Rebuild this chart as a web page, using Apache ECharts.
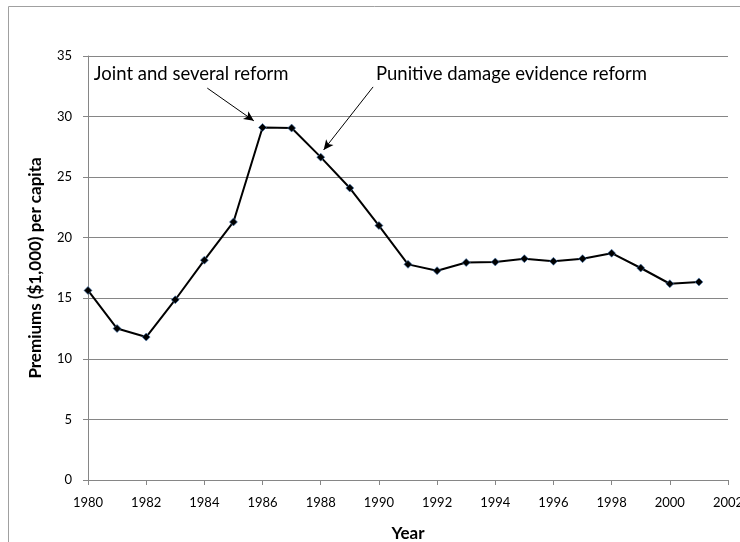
<!DOCTYPE html>
<html>
<head>
<meta charset="utf-8">
<script src="https://cdn.jsdelivr.net/npm/echarts@6/dist/echarts.min.js"></script>
<style>
  html, body { margin: 0; padding: 0; background: #fff; }
  #chart { width: 740px; height: 542px; }
</style>
</head>
<body>
<div id="chart"></div>
<script>
// premiums per capita by year
var years = [1980, 1981, 1982, 1983, 1984, 1985, 1986, 1987, 1988, 1989, 1990,
             1991, 1992, 1993, 1994, 1995, 1996, 1997, 1998, 1999, 2000, 2001];
var premiums = [15.65, 12.5, 11.8, 14.88, 18.15, 21.3, 29.1, 29.05, 26.65, 24.1, 21.0,
                17.8, 17.28, 17.95, 18.0, 18.27, 18.05, 18.27, 18.72, 17.5, 16.2, 16.35];
var yTicks = [0, 5, 10, 15, 20, 25, 30, 35];

// annotation text + arrow (start, end) in data units
var notes = [
  { text: 'Joint and several reform', at: [1980.2, 33.5], from: [1984.1, 32.35], to: [1985.7, 29.65] },
  { text: 'Punitive damage evidence reform', at: [1989.9, 33.5], from: [1989.8, 32.45], to: [1988.1, 27.25] }
];

var font = 'Lato, "Open Sans", sans-serif';
var chart = echarts.init(document.getElementById('chart'));

var option = {
  animation: false,
  textStyle: { fontFamily: font },
  grid: { left: 88, right: 12, top: 56, bottom: 62, outerBoundsMode: 'none' },
  xAxis: {
    type: 'value',
    min: 1980,
    max: 2002,
    interval: 2,
    name: 'Year',
    nameLocation: 'middle',
    nameGap: 45,
    nameTextStyle: { fontFamily: font, fontSize: 17, fontWeight: 'bold', color: '#000' },
    axisLine: { lineStyle: { color: '#868686' } },
    axisTick: { show: true, length: 5, lineStyle: { color: '#868686' } },
    axisLabel: { color: '#000', fontSize: 13, margin: 16, formatter: function (v) { return String(v); } },
    splitLine: { show: false }
  },
  yAxis: {
    type: 'value',
    min: yTicks[0],
    max: yTicks[yTicks.length - 1],
    interval: 5,
    name: 'Premiums ($1,000) per capita',
    nameLocation: 'middle',
    nameGap: 44,
    nameTextStyle: { fontFamily: font, fontSize: 17, fontWeight: 'bold', color: '#000' },
    axisLine: { show: true, lineStyle: { color: '#868686' } },
    axisTick: { show: true, length: 5, lineStyle: { color: '#868686' } },
    axisLabel: { color: '#000', fontSize: 13, margin: 16 },
    splitLine: { lineStyle: { color: '#868686' } }
  },
  series: [
    {
      type: 'line',
      data: years.map(function (y, i) { return [y, premiums[i]]; }),
      symbol: 'diamond',
      symbolSize: 8,
      showAllSymbol: true,
      lineStyle: { color: '#000', width: 2 },
      itemStyle: { color: '#000', borderColor: '#4a7ebb', borderWidth: 0.6 },
      markLine: {
        silent: true,
        symbol: ['none', 'arrow'],
        symbolSize: [7, 10],
        label: { show: false },
        lineStyle: { color: '#000', width: 1, type: 'solid' },
        data: notes.map(function (n) {
          return [{ coord: n.from }, { coord: n.to }];
        })
      },
      markPoint: {
        silent: true,
        symbol: 'circle',
        symbolSize: 0,
        data: notes.map(function (n) {
          return {
            coord: n.at,
            label: {
              show: true,
              position: 'right',
              distance: 0,
              formatter: n.text,
              color: '#000',
              fontFamily: font,
              fontSize: 18.5
            }
          };
        })
      }
    }
  ],
  graphic: [
    {
      type: 'rect',
      shape: { x: 8.5, y: 6.5, width: 800, height: 600 },
      style: { fill: 'none', stroke: '#a0a0a0', lineWidth: 1 },
      silent: true
    }
  ]
};

chart.setOption(option);
</script>
</body>
</html>
